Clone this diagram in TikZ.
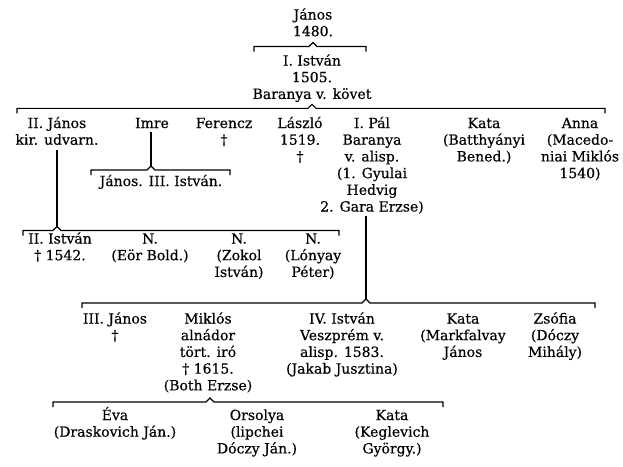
\documentclass[tikz,border=0pt]{standalone}
\usepackage{fontspec}
\setmainfont{DejaVu Serif}[FakeBold=0.4]
\setlength{\lineskiplimit}{-100pt}
\newcommand\famline[4]{% left, peak, right, y
  \draw[conn] ({#1},{#4+5}) -- ({#1},{#4}) -- ({#2-4},{#4}) -- ({#2},{#4-4}) -- ({#2+4},{#4}) -- ({#3},{#4}) -- ({#3},{#4+5});}
\begin{document}
\begin{tikzpicture}[x=1pt,y=-1pt,
  person/.style={inner sep=0pt, outer sep=0pt, align=center, anchor=base,
    font=\fontsize{14}{16.7}\selectfont},
  conn/.style={line width=1.1pt, line cap=butt, line join=miter}]
\useasboundingbox[fill=white] (0,0) rectangle (623,466);
% (node y = baseline of the last text line)
% generation 0
\node[person] (janos) at (313,36.2) {János\\1480.};
\node[person] (istvan1) at (312,98.9) {I. István\\1505.\\Baranya v. követ};
% generation 1
\node[person] (iijanos) at (57,144.7) {II. János\\kir. udvarn.};
\node[person] (imre) at (152,128) {Imre};
\node[person] (ferencz) at (224,144.7) {Ferencz\\†};
\node[person] (laszlo) at (300,161.4) {László\\1519.\\†};
\node[person] (ipal) at (372,211.5) {I. Pál\\Baranya\\v. alisp.\\(1. Gyulai\\Hedvig\\2. Gara Erzse)};
\node[person] (kata1) at (484,161.4) {Kata\\(Batthyányi\\Bened.)};
\node[person] (anna) at (580,178.1) {Anna\\(Macedo-\\niai Miklós\\1540)};
\node[person] (janosiii) at (161,186) {János. III. István.};
% generation 2
\node[person] (iiistvan) at (60,260.2) {II. István\\† 1542.};
\node[person] (n1) at (150,260.2) {N.\\(Eör Bold.)};
\node[person] (n2) at (239,276.9) {N.\\(Zokol\\István)};
\node[person] (n3) at (313,276.9) {N.\\(Lónyay\\Péter)};
\node[person] (iiijanos) at (115,340.2) {III. János\\†};
\node[person] (miklos) at (208,390.3) {Miklós\\alnádor\\tört. iró\\† 1615.\\(Both Erzse)};
\node[person] (ivistvan) at (342,373.6) {IV. István\\Veszprém v.\\alisp. 1583.\\(Jakab Jusztina)};
\node[person] (kata2) at (463,356.9) {Kata\\(Markfalvay\\János};
\node[person] (zsofia) at (555,356.9) {Zsófia\\(Dóczy\\Mihály)};
% generation 3
\node[person] (eva) at (115,436.7) {Éva\\(Draskovich Ján.)};
\node[person] (orsolya) at (257,453.4) {Orsolya\\(lipchei\\Dóczy Ján.)};
\node[person] (kata3) at (392,453.4) {Kata\\(Keglevich\\György.)};
% peaks of the brackets
\coordinate (pk1) at (313,42.5);
\coordinate (pk2) at (312,104.3);
\coordinate (pk4) at (151,166);
\coordinate (pk3) at (57,226.5);
\coordinate (pk5) at (366,299);
\coordinate (pk6) at (210,398);
% brackets
\famline{254}{313}{366}{46.5}
\famline{17}{312}{605}{108.3}
\famline{91}{151}{230}{170}
\famline{23}{57}{339}{230.5}
\famline{82}{366}{595}{303}
\famline{53}{210}{443}{402}
% descent lines
\draw[conn, shorten <=4pt] (imre.south -| pk4) -- (pk4);
\draw[conn, shorten <=5pt] (iijanos.south -| pk3) -- (pk3);
\draw[conn, shorten <=2pt] (ipal.south -| pk5) -- (pk5);
\end{tikzpicture}
\end{document}
